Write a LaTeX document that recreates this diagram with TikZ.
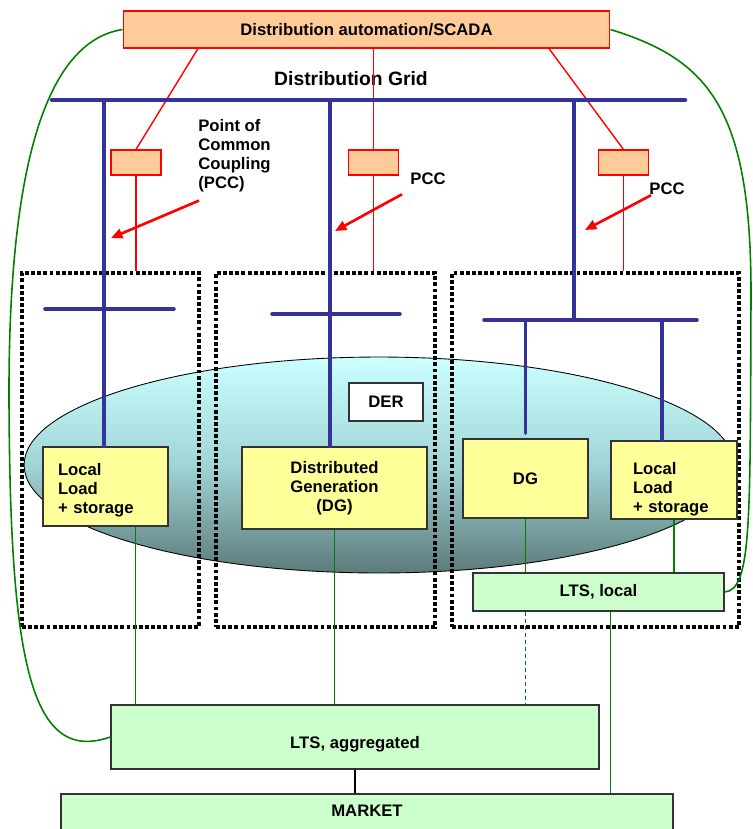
\documentclass[tikz,border=0pt]{standalone}
\usepackage{fontspec}
\setmainfont{Liberation Sans}
\usepackage{tikz}
\usetikzlibrary{arrows.meta, positioning, calc}
\usepackage{xcolor}

\definecolor{scadaOrange}{RGB}{255,204,153}
\definecolor{busBlue}{RGB}{51,51,153}
\definecolor{loadYellow}{RGB}{255,255,153}
\definecolor{ltsGreen}{RGB}{204,255,204}
\definecolor{linkGreen}{RGB}{0,128,0}
\definecolor{derTop}{RGB}{204,255,255}
\definecolor{derMid}{RGB}{160,212,214}
\definecolor{derBottom}{RGB}{92,122,122}
\definecolor{edgeGray}{RGB}{51,51,51}

\begin{document}
\begin{tikzpicture}[x=0.02cm, y=-0.02cm,
  every node/.style={font=\bfseries\fontsize{9.5}{10.8}\selectfont, inner sep=0pt},
  ctrlbox/.style={rectangle, draw=red, fill=scadaOrange, line width=0.6pt},
  unitbox/.style={rectangle, draw=edgeGray, fill=loadYellow, line width=0.8pt},
  ltsbox/.style={rectangle, draw=edgeGray, fill=ltsGreen, line width=0.8pt},
  zone/.style={rectangle, draw=black, line width=2pt, dash pattern=on 2.2pt off 1.3pt},
  bus/.style={draw=busBlue, line width=2pt, line cap=round},
  ctrl/.style={draw=red, line width=0.8pt},
  link/.style={draw=linkGreen, line width=0.9pt},
  pointer/.style={draw=red, line width=1.5pt, -{Triangle[length=6.5pt, width=5.5pt]}}
]
  \useasboundingbox (0,0) rectangle (752,829);

  \draw[top color=derTop, bottom color=derBottom, middle color=derMid, draw=black, line width=0.5pt]
    (379,465) ellipse [x radius=7.1cm, y radius=2.16cm];

  \node[ctrlbox, minimum width=9.74cm, minimum height=0.74cm] (scada) at (366.5,29.5)
    {Distribution automation/SCADA};
  \node[font=\bfseries\fontsize{11}{13}\selectfont] (grid) at (351,79) {Distribution Grid};

  \node[zone, minimum width=3.54cm, minimum height=7.08cm] (zone1) at (110.5,450) {};
  \node[zone, minimum width=4.38cm, minimum height=7.08cm] (zone2) at (325.5,450) {};
  \node[zone, minimum width=5.74cm, minimum height=7.08cm] (zone3) at (595.5,450) {};

  \node[ctrlbox, minimum width=1cm, minimum height=0.5cm] (pcc1) at (136,162.5) {};
  \node[ctrlbox, minimum width=1cm, minimum height=0.5cm] (pcc2) at (373.5,162.5) {};
  \node[ctrlbox, minimum width=1cm, minimum height=0.5cm] (pcc3) at (623.5,162.5) {};

  \draw[ctrl] ([xshift=-3.37cm]scada.south) -- (pcc1.north);
  \draw[ctrl] (pcc2.north |- scada.south) -- (pcc2.north);
  \draw[ctrl] ([xshift=3.65cm]scada.south) -- (pcc3.north);
  \foreach \p/\z in {pcc1/zone1, pcc2/zone2, pcc3/zone3}
    \draw[ctrl] (\p.south) -- (\p.south |- \z.north);

  \node[unitbox, minimum width=2.5cm, minimum height=1.58cm, text width=1.9cm, align=left] (load1) at (105.5,486.5)
    {\rule{0pt}{11.5pt}Local\\Load\\+ storage};
  \node[unitbox, minimum width=3.7cm, minimum height=1.64cm, align=center] (gen) at (334.5,488)
    {Distributed\\Generation\\(DG)};
  \node[unitbox, minimum width=2.5cm, minimum height=1.58cm] (dg) at (525.5,478.5) {DG};
  \node[unitbox, minimum width=2.52cm, minimum height=1.56cm, text width=1.64cm, align=left] (load2) at (674,480)
    {\rule{0pt}{17pt}Local\\Load\\+ storage};
  \node[rectangle, draw=edgeGray, fill=white, line width=0.8pt, minimum width=1.48cm, minimum height=0.76cm] (der) at (386,402) {DER};

  \coordinate (busW) at (52,100);
  \coordinate (busE) at (685,100);
  \coordinate (tap1) at (104,100);
  \coordinate (tap2) at (330,100);
  \coordinate (tap3) at (574,100);
  \coordinate (bar3) at (574,320);
  \coordinate (drop4) at (662,320);
  \draw[bus, line width=2.6pt] (busW) -- (busE);
  \draw[bus] (tap1) -- (tap1 |- load1.north);
  \draw[bus] (tap2) -- (tap2 |- gen.north);
  \draw[bus] (tap3) -- (bar3);
  \draw[bus] (45,309) -- (174,309);
  \draw[bus] (272,314) -- (400,314);
  \draw[bus] (484,320) -- (697,320);
  \draw[bus] (dg.north |- bar3) -- ($(dg.north)+(0,-5)$);
  \draw[bus] (drop4) -- (drop4 |- load2.north);

  \node[ltsbox, minimum width=5.02cm, minimum height=0.76cm] (ltslocal) at (598.5,592) {LTS, local};
  \node[ltsbox, minimum width=9.76cm, minimum height=1.28cm] (ltsagg) at (355,737) {\rule{0pt}{15pt}LTS, aggregated};
  \node[ltsbox, minimum width=12.24cm, minimum height=0.8cm] (market) at (367,814) {MARKET\rule[-4pt]{0pt}{1pt}};

  \draw[link] ($(load1.south)+(30,0)$) -- ($(load1.south |- ltsagg.north)+(30,0)$);
  \draw[link] (gen.south) -- (gen.south |- ltsagg.north);
  \draw[link] (dg.south) -- (dg.south |- ltslocal.north);
  \draw[link, line width=1pt, dash pattern=on 2.5pt off 1.5pt] (dg.south |- ltslocal.south) -- (dg.south |- ltsagg.north);
  \draw[link] (load2.south) -- (load2.south |- ltslocal.north);
  \draw[link] ($(ltslocal.south)+(12,0)$) -- ($(ltslocal.south |- market.north)+(12,0)$);
  \draw[line width=0.7pt] (ltsagg.south) -- (ltsagg.south |- market.north);

  \draw[link] (scada.west) .. controls (55,40) and (8,140) .. (9,400)
    .. controls (10,660) and (30,765) .. (ltsagg.west);
  \draw[link] (scada.east) .. controls (710,60) and (752,110) .. (751,300)
    .. controls (750,520) and (752,590) .. (ltslocal.east);

  \node[align=left, anchor=west] (lbl1) at (198,156) {Point of\\Common\\Coupling\\(PCC)};
  \node (lbl2) at (428,179) {PCC};
  \node (lbl3) at (667,189) {PCC};
  \coordinate (hit1) at (111,238);
  \coordinate (hit2) at (335,231);
  \coordinate (hit3) at (585,230);
  \draw[pointer] ($(lbl1.south west)+(1,8)$) -- (hit1);
  \draw[pointer] ($(lbl2.south west)+(-8,9)$) -- (hit2);
  \draw[pointer] ($(lbl3.south west)+(2,0)$) -- (hit3);
\end{tikzpicture}
\end{document}
